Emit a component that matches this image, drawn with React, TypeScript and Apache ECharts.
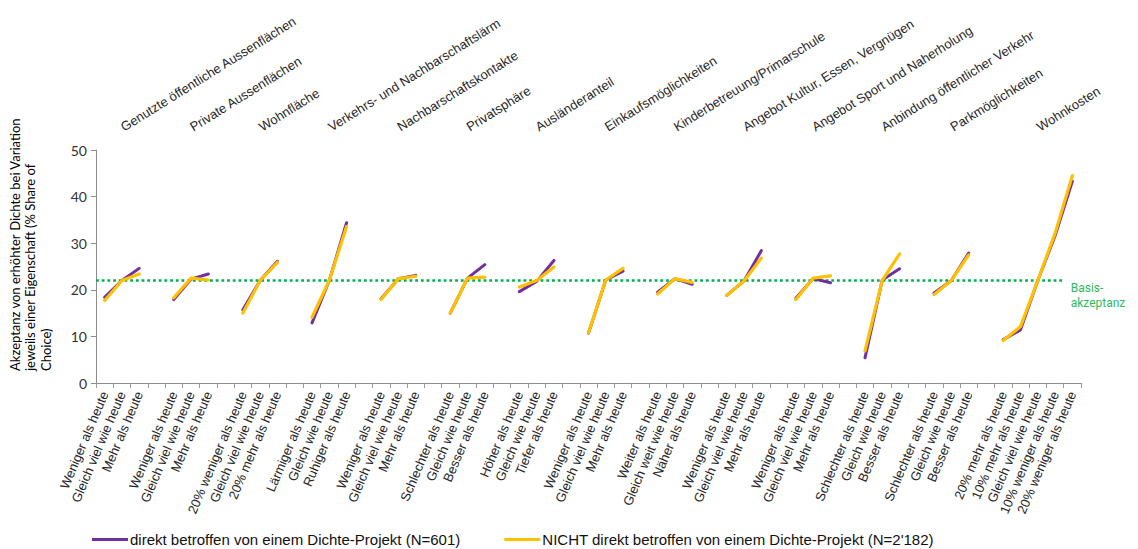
import React, { useEffect, useRef } from 'react';
import * as echarts from 'echarts';

const attributes = [
  'Genutzte öffentliche Aussenflächen',
  'Private Aussenflächen',
  'Wohnfläche',
  'Verkehrs- und Nachbarschaftslärm',
  'Nachbarschaftskontakte',
  'Privatsphäre',
  'Ausländeranteil',
  'Einkaufsmöglichkeiten',
  'Kinderbetreuung/Primarschule',
  'Angebot Kultur, Essen, Vergnügen',
  'Angebot Sport und Naherholung',
  'Anbindung öffentlicher Verkehr',
  'Parkmöglichkeiten',
  'Wohnkosten',
];

const levels = [
  ['Weniger als heute', 'Gleich viel wie heute', 'Mehr als heute'],
  ['Weniger als heute', 'Gleich viel wie heute', 'Mehr als heute'],
  ['20% weniger als heute', 'Gleich viel wie heute', '20% mehr als heute'],
  ['Lärmiger als heute', 'Gleich wie heute', 'Ruhiger als heute'],
  ['Weniger als heute', 'Gleich viel wie heute', 'Mehr als heute'],
  ['Schlechter als heute', 'Gleich wie heute', 'Besser als heute'],
  ['Höher als heute', 'Gleich wie heute', 'Tiefer als heute'],
  ['Weniger als heute', 'Gleich viel wie heute', 'Mehr als heute'],
  ['Weiter als heute', 'Gleich weit wie heute', 'Näher als heute'],
  ['Weniger als heute', 'Gleich viel wie heute', 'Mehr als heute'],
  ['Weniger als heute', 'Gleich viel wie heute', 'Mehr als heute'],
  ['Schlechter als heute', 'Gleich wie heute', 'Besser als heute'],
  ['Schlechter als heute', 'Gleich wie heute', 'Besser als heute'],
  ['20% mehr als heute', '10% mehr als heute', 'Gleich viel wie heute', '10% weniger als heute', '20% weniger als heute'],
];

const direktValues = [
  [18.4, 22.0, 24.6],
  [17.9, 22.3, 23.4],
  [15.7, 22.0, 26.1],
  [12.9, 22.0, 34.4],
  [18.1, 22.4, 23.1],
  [15.0, 22.5, 25.4],
  [19.6, 21.8, 26.3],
  [10.7, 22.1, 24.0],
  [19.5, 22.4, 21.2],
  [18.8, 21.9, 28.4],
  [18.2, 22.4, 21.5],
  [5.4, 22.1, 24.5],
  [19.3, 22.0, 27.9],
  [9.3, 11.4, 22.0, 31.6, 43.3],
];

const nichtValues = [
  [17.7, 22.0, 23.4],
  [18.3, 22.5, 22.1],
  [15.0, 22.0, 25.9],
  [14.1, 22.0, 33.6],
  [17.9, 22.4, 22.9],
  [15.0, 22.5, 22.7],
  [20.6, 22.0, 24.9],
  [10.8, 22.1, 24.6],
  [19.1, 22.4, 21.6],
  [18.8, 21.9, 26.8],
  [17.9, 22.5, 23.0],
  [6.9, 22.0, 27.7],
  [19.0, 22.0, 27.5],
  [9.1, 12.1, 22.0, 32.1, 44.5],
];

const basisValue = 22;
const seriesNames = [
  'direkt betroffen von einem Dichte-Projekt (N=601)',
  "NICHT direkt betroffen von einem Dichte-Projekt (N=2'182)",
];

const categories: string[] = [];
const topLabels: string[] = [];
const direktData: (number | null)[] = [];
const nichtData: (number | null)[] = [];
attributes.forEach((attr, g) => {
  if (g > 0) {
    categories.push('');
    topLabels.push('');
    direktData.push(null);
    nichtData.push(null);
  }
  const mid = Math.floor((levels[g].length - 1) / 2);
  levels[g].forEach((lv, i) => {
    categories.push(lv);
    topLabels.push(i === mid ? attr : '');
    direktData.push(direktValues[g][i]);
    nichtData.push(nichtValues[g][i]);
  });
});
const basisData = [
  [0, basisValue],
  [categories.length - 1, basisValue],
];

export default function App() {
  const ref = useRef<HTMLDivElement>(null);
  useEffect(() => {
    if (!ref.current) return;
    const chart = echarts.init(ref.current, undefined, { renderer: 'svg' });
    const arial = 'Liberation Sans, Arial, sans-serif';
    const calibri = 'Lato, Noto Sans, sans-serif';
    chart.setOption({
      animation: false,
      backgroundColor: '#ffffff',
      grid: {
        left: 96,
        right: 57,
        top: 150,
        bottom: 166,
        containLabel: false,
        outerBoundsMode: 'none',
      },
      legend: {
        data: seriesNames,
        left: 87,
        top: 527,
        icon: 'rect',
        itemWidth: 36,
        itemHeight: 3,
        itemGap: 44,
        selectedMode: false,
        textStyle: { fontFamily: arial, fontSize: 15, color: '#111111', padding: [0, 0, 0, -3] },
      },
      xAxis: [
        {
          type: 'category',
          data: categories,
          position: 'bottom',
          axisLine: { lineStyle: { color: '#8c8c8c' } },
          axisTick: { show: true, length: 5, interval: 0, lineStyle: { color: '#9a9a9a' } },
          axisLabel: {
            interval: 0,
            rotate: 67,
            margin: 9,
            fontFamily: arial,
            fontSize: 13,
            color: '#262626',
          },
          splitLine: { show: false },
        },
        {
          type: 'category',
          data: topLabels,
          position: 'top',
          axisLine: { show: false },
          axisTick: { show: false },
          axisLabel: {
            interval: 0,
            rotate: -32,
            margin: 22,
            fontFamily: arial,
            fontSize: 13,
            color: '#262626',
          },
          splitLine: { show: false },
        },
        {
          type: 'value',
          min: 0,
          max: categories.length,
          show: false,
        },
      ],
      yAxis: {
        type: 'value',
        min: 0,
        max: 50,
        interval: 10,
        axisLine: { show: true, lineStyle: { color: '#8c8c8c' } },
        axisTick: { show: true, length: 5, lineStyle: { color: '#8c8c8c' } },
        axisLabel: { fontFamily: calibri, fontSize: 14, color: '#333333', margin: 9 },
        splitLine: { show: false },
      },
      series: [
        {
          name: 'Basis',
          type: 'line',
          xAxisIndex: 2,
          data: basisData,
          symbol: 'none',
          silent: true,
          lineStyle: { color: '#00b050', width: 2.6, type: [2.8, 2.9] },
          endLabel: {
            show: true,
            formatter: 'Basis-\nakzeptanz',
            color: '#2fba5e',
            fontFamily: 'Roboto, sans-serif',
            fontSize: 12,
            lineHeight: 15,
            distance: 7,
            offset: [0, 15],
          },
          z: 1,
        },
        {
          name: seriesNames[0],
          type: 'line',
          xAxisIndex: 0,
          data: direktData,
          symbol: 'none',
          connectNulls: false,
          itemStyle: { color: '#7030a0' },
          lineStyle: { color: '#7030a0', width: 3, cap: 'round' },
          z: 2,
        },
        {
          name: seriesNames[1],
          type: 'line',
          xAxisIndex: 0,
          data: nichtData,
          symbol: 'none',
          connectNulls: false,
          itemStyle: { color: '#ffc000' },
          lineStyle: { color: '#ffc000', width: 3.2, cap: 'round' },
          z: 3,
        },
      ],
      graphic: [
        {
          type: 'text',
          x: 7,
          y: 371,
          rotation: Math.PI / 2,
          style: {
            text:
              '{a|Akzeptanz von erhöhter }{b|Dichte}{a| bei Variation}\n{a|jeweils einer Eigenschaft (% Share of}\n{a|Choice)}',
            align: 'left',
            verticalAlign: 'top',
            rich: {
              a: { fontFamily: calibri, fontSize: 13, color: '#262626', lineHeight: 15.5 },
              b: { fontFamily: calibri, fontSize: 13, color: '#8a8a8a', lineHeight: 15.5 },
            },
          },
        },
      ],
    });
    return () => chart.dispose();
  }, []);
  return <div ref={ref} style={{ width: 1138, height: 549, marginLeft: -8, marginTop: -8 }} />;
}
